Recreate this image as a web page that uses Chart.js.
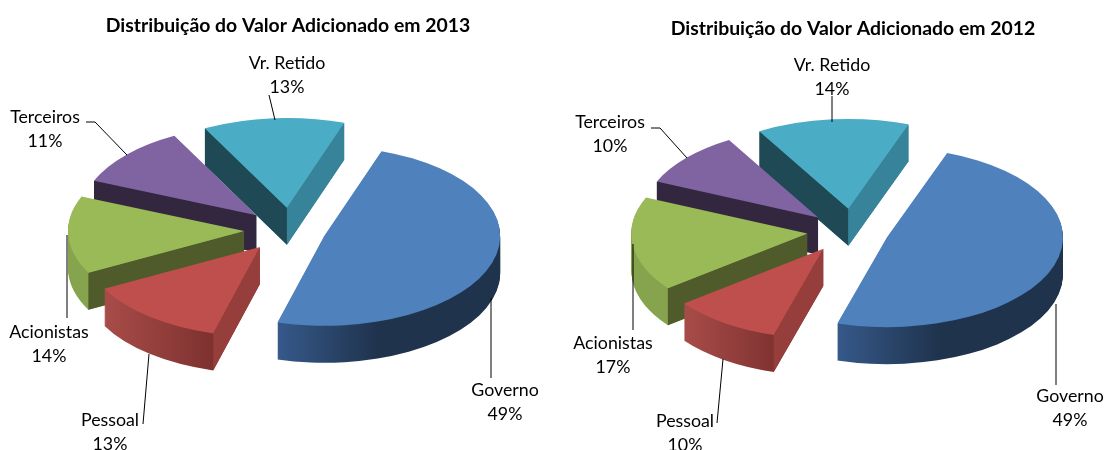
<!DOCTYPE html>
<html lang="pt">
<head>
<meta charset="utf-8">
<title>Distribuição do Valor Adicionado</title>
<script src="https://cdn.jsdelivr.net/npm/chart.js@4"></script>
<style>
html,body{margin:0;padding:0;background:#fff;overflow:hidden;width:1105px;height:450px}
canvas{position:absolute;top:0}
#c2013{left:0}
#c2012{left:565px}
</style>
</head>
<body>
<canvas id="c2013" width="576" height="450"></canvas>
<canvas id="c2012" width="576" height="450"></canvas>
<script>
// ---- data ----
const categories = ['Governo', 'Pessoal', 'Acionistas', 'Terceiros', 'Vr. Retido'];
const values2013 = [49, 13, 14, 11, 13];
const values2012 = [49, 10, 17, 10, 14];
const title2013 = 'Distribuição do Valor Adicionado em 2013';
const title2012 = 'Distribuição do Valor Adicionado em 2012';

// ---- style ----
const topColors = ['#4f81bd', '#be4f4c', '#9aba58', '#8064a2', '#4bacc6'];
const wallStops = [
  [[0, '#36598a'], [0.45, '#1f334d'], [1, '#1f334d']],
  [[0, '#a84c49'], [0.72, '#7c302e'], [1, '#7c302e']],
  [[0, '#86a34d'], [1, '#86a34d']],
  [[0, '#33273f'], [1, '#33273f']],
  [[0, '#37849a'], [1, '#37849a']]
];
const startFaceColors = ['#1f334d', '#953e3b', '#4f5b2b', '#33273f', '#1f4a55'];
const endFaceColors = ['#1f334d', '#7c302e', '#86a34d', '#33273f', '#37849a'];
const FONT = 'Lato, Carlito, Calibri, sans-serif';
const LABEL_SIZE = 17.8;
const TITLE_SIZE = 19.4;

// ---- layout (canvas coordinates) ----
const pie = { radius: 176, squash: 0.51, depth: 37, explode: 40 };
const layout2013 = {
  center: [287, 231], rotation: 19, titleTop: 14,
  nudges: [[-1, -1], [-2, 0], [-3, -1], [-1, -2], [3, -3]],
  labels: [
    { x: 505, y: 390, line: [[491, 298], [491, 378]] },
    { x: 110, y: 420, line: [[149, 354], [143, 424]] },
    { x: 49, y: 332, line: [[67, 235], [67, 318]] },
    { x: 45, y: 117, line: [[86, 122], [95, 122], [127, 155]] },
    { x: 287, y: 63, line: [[269, 95], [275, 120]] }
  ]
};
const layout2012 = {
  center: [284, 231], rotation: 20, titleTop: 17,
  nudges: [[0, 0], [-3, 1], [-2, 0], [-1, 0], [3, -2]],
  labels: [
    { x: 505, y: 396, line: [[491, 304], [491, 385]] },
    { x: 120, y: 421, line: [[158, 359], [152, 423]] },
    { x: 48, y: 343, line: [[68, 244], [68, 330]] },
    { x: 45, y: 122, line: [[86, 128], [95, 128], [122, 158]] },
    { x: 267, y: 65, line: [[267, 96], [267, 122]] }
  ]
};

function solidPiePlugin(layout) {
  return {
    id: 'solidPie',
    beforeDatasetsDraw(chart) {
      const ctx = chart.ctx;
      const arcs = chart.getDatasetMeta(0).data;
      const [cx, cy] = layout.center;
      const k = pie.squash, d = pie.explode;
      const midOf = a => (a.startAngle + a.endAngle) / 2;
      const at = (a, i, angle, r, drop) => [
        cx + layout.nudges[i][0] + d * Math.cos(midOf(a)) + r * Math.cos(angle),
        cy + layout.nudges[i][1] + k * (d * Math.sin(midOf(a)) + r * Math.sin(angle)) + drop
      ];
      const place = (a, i, drop) => {
        ctx.translate(cx + layout.nudges[i][0], cy + layout.nudges[i][1] + drop);
        ctx.scale(1, k);
        ctx.translate(Math.cos(midOf(a)) * d, Math.sin(midOf(a)) * d);
        ctx.translate(-a.x, -a.y);
      };
      const paint = (a, color) => {
        const saved = a.options;
        a.options = Object.create(saved, { backgroundColor: { value: color } });
        a.draw(ctx);
        a.options = saved;
      };
      const order = arcs.map((a, i) => i).sort((p, q) => Math.sin(midOf(arcs[p])) - Math.sin(midOf(arcs[q])));
      for (const i of order) {
        const a = arcs[i];
        const r = a.outerRadius;
        // extent of the slice, for the curved wall's shading
        const xs = [0, Math.cos(a.startAngle), Math.cos(a.endAngle)];
        for (let t = -2; t <= 2; t++) {
          if (t * Math.PI >= a.startAngle && t * Math.PI <= a.endAngle) xs.push(Math.cos(t * Math.PI));
        }
        const x0 = a.x + r * Math.min(...xs), x1 = a.x + r * Math.max(...xs);
        for (let drop = pie.depth; drop >= 1; drop--) {
          ctx.save();
          place(a, i, drop);
          const g = ctx.createLinearGradient(x0, 0, x1, 0);
          wallStops[i].forEach(s => g.addColorStop(s[0], s[1]));
          paint(a, g);
          ctx.restore();
        }
        // cut faces that look towards the viewer
        const face = (angle, color) => {
          const p = [at(a, i, 0, 0, 0), at(a, i, angle, r, 0), at(a, i, angle, r, pie.depth), at(a, i, 0, 0, pie.depth)];
          ctx.fillStyle = color;
          ctx.beginPath();
          p.forEach((q, n) => n ? ctx.lineTo(q[0], q[1]) : ctx.moveTo(q[0], q[1]));
          ctx.closePath();
          ctx.fill();
        };
        if (Math.sin(a.startAngle - Math.PI / 2) > 0) face(a.startAngle, startFaceColors[i]);
        if (Math.sin(a.endAngle + Math.PI / 2) > 0) face(a.endAngle, endFaceColors[i]);
        ctx.save();
        place(a, i, 0);
        paint(a, topColors[i]);
        ctx.restore();
      }
      // leader lines and labels
      const vals = chart.data.datasets[0].data;
      ctx.save();
      ctx.strokeStyle = '#000';
      ctx.lineWidth = 1;
      ctx.fillStyle = '#000';
      ctx.font = LABEL_SIZE + 'px ' + FONT;
      ctx.textAlign = 'center';
      ctx.textBaseline = 'middle';
      layout.labels.forEach((l, i) => {
        ctx.beginPath();
        l.line.forEach((q, n) => n ? ctx.lineTo(q[0], q[1]) : ctx.moveTo(q[0], q[1]));
        ctx.stroke();
        ctx.fillText(chart.data.labels[i], l.x, l.y);
        ctx.fillText(vals[i] + '%', l.x, l.y + 24);
      });
      ctx.restore();
      return false;
    }
  };
}

function makeChart(id, title, values, layout) {
  return new Chart(document.getElementById(id), {
    type: 'pie',
    data: {
      labels: categories,
      datasets: [{ data: values, backgroundColor: topColors, borderWidth: 0 }]
    },
    options: {
      responsive: false,
      animation: false,
      events: [],
      rotation: layout.rotation,
      radius: pie.radius,
      plugins: {
        legend: { display: false },
        tooltip: { enabled: false },
        title: {
          display: true,
          text: title,
          color: '#000',
          font: { family: FONT, size: TITLE_SIZE, weight: 'bold', lineHeight: 1.2 },
          padding: { top: layout.titleTop, bottom: 0 }
        }
      }
    },
    plugins: [solidPiePlugin(layout)]
  });
}

makeChart('c2013', title2013, values2013, layout2013);
makeChart('c2012', title2012, values2012, layout2012);
</script>
</body>
</html>
